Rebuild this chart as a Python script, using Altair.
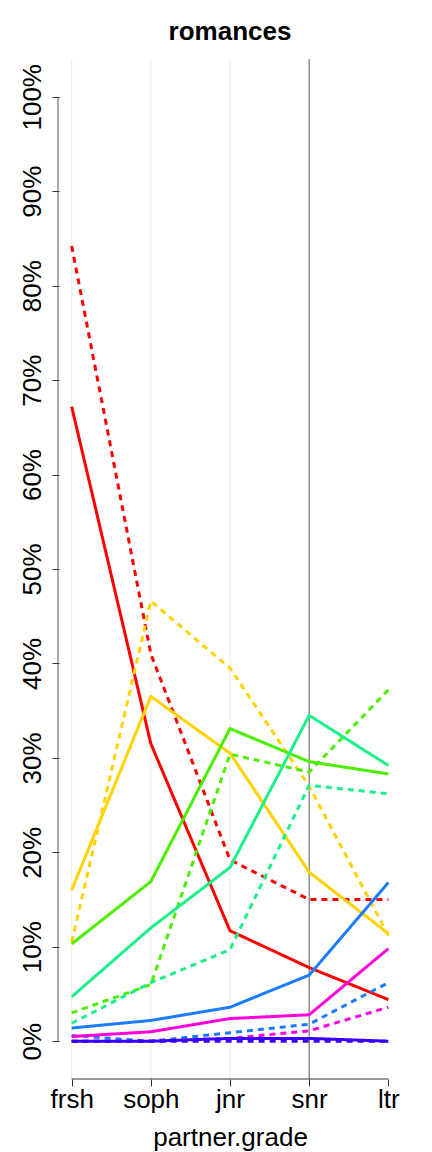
import altair as alt
import pandas as pd

grades = ["frsh", "soph", "jnr", "snr", "ltr"]
grade_pos = [1, 2, 3, 4, 5]

series_names = ["red", "gold", "green", "spring", "blue", "magenta", "purple"]
series_colors = ["#FF0000", "#FFD200", "#4CEE00", "#1CF08A", "#1A7CFF", "#FF00DC", "#3A00FF"]

solid_vals = {
    "red":     [67.2, 31.5, 11.7, 7.8, 4.4],
    "gold":    [16.0, 36.5, 30.5, 17.9, 11.4],
    "green":   [10.3, 16.9, 33.1, 29.6, 28.3],
    "spring":  [4.7, 12.0, 18.4, 34.5, 29.2],
    "blue":    [1.4, 2.2, 3.6, 7.0, 16.8],
    "magenta": [0.5, 1.0, 2.4, 2.8, 9.8],
    "purple":  [0.0, 0.0, 0.3, 0.3, 0.0],
}
dotted_vals = {
    "red":     [84.2, 41.0, 19.2, 15.0, 15.0],
    "gold":    [10.5, 46.6, 39.5, 27.0, 11.2],
    "green":   [3.0, 6.0, 30.4, 28.5, 37.2],
    "spring":  [1.9, 6.2, 9.7, 27.1, 26.2],
    "blue":    [0.6, 0.0, 0.9, 1.8, 6.2],
    "magenta": [0.0, 0.0, 0.3, 1.1, 3.6],
    "purple":  [0.0, 0.0, 0.0, 0.0, 0.0],
}

rows = []
order = 0
for name in series_names:
    for style, table in (("dotted", dotted_vals), ("solid", solid_vals)):
        for g, v in zip(grade_pos, table[name]):
            rows.append({"series": name, "style": style, "key": f"{order:02d}_{name}_{style}",
                         "order": order, "grade": g, "pct": v})
        order += 1
df = pd.DataFrame(rows)

W, H = 342, 1020
FONT = "Liberation Sans"

xscale = alt.Scale(domain=[0.84, 5.16], nice=False, zero=False)
yscale = alt.Scale(domain=[-4, 104], nice=False, zero=False)

label_expr = "['','frsh','soph','jnr','snr','ltr'][datum.value]"

light_grid = alt.Chart(pd.DataFrame({"grade": [1, 2, 3]})).mark_rule(
    color="#EFEDDD", strokeWidth=1
).encode(
    x=alt.X("grade:Q", scale=xscale,
            axis=alt.Axis(values=grade_pos, labelExpr=label_expr, domain=False, grid=False,
                          tickSize=7, tickColor="#333333", tickWidth=1,
                          labelFont=FONT, labelFontSize=26, labelColor="black", labelPadding=0,
                          title="partner.grade", titleFont=FONT, titleFontSize=26,
                          titleFontWeight="normal", titleColor="black", titlePadding=12)),
)

dark_line = alt.Chart(pd.DataFrame({"grade": [4]})).mark_rule(
    color="#555555", strokeWidth=1
).encode(x=alt.X("grade:Q", scale=xscale))

lines = alt.Chart(df).mark_line(strokeWidth=3, strokeCap="butt", strokeJoin="round").encode(
    x=alt.X("grade:Q", scale=xscale),
    y=alt.Y("pct:Q", scale=yscale,
            axis=alt.Axis(values=list(range(0, 101, 10)), labelExpr="datum.value + '%'",
                          labelAngle=270, labelAlign="center", labelBaseline="bottom",
                          domain=False, grid=False, tickSize=7, tickColor="#333333",
                          labelFont=FONT, labelFontSize=26, labelColor="black", labelPadding=7,
                          title=None)),
    color=alt.Color("series:N", scale=alt.Scale(domain=series_names, range=series_colors), legend=None),
    strokeDash=alt.StrokeDash("style:N",
                              scale=alt.Scale(domain=["solid", "dotted"], range=[[1, 0], [6, 5]]),
                              legend=None),
    detail="key:N",
    order="order:Q",
)

y_domain = alt.Chart(pd.DataFrame({"a": [0], "b": [100]})).mark_rule(color="#555555", strokeWidth=1).encode(
    x=alt.value(-1), y=alt.Y("a:Q", scale=yscale), y2="b:Q"
)
x_domain = alt.Chart(pd.DataFrame({"a": [1], "b": [5]})).mark_rule(color="#333333", strokeWidth=1).encode(
    y=alt.value(H), x=alt.X("a:Q", scale=xscale), x2="b:Q"
)

chart = alt.layer(light_grid, dark_line, lines, y_domain, x_domain).properties(
    width=W, height=H,
    title=alt.TitleParams("romances", font=FONT, fontSize=26, fontWeight="bold",
                          color="black", anchor="middle", offset=14),
    autosize=alt.AutoSizeParams(type="none"),
    padding={"left": 51, "top": 51, "right": 22, "bottom": 74},
    background="white",
).configure_view(stroke=None)

chart.save("out.html", embed_options={"renderer": "svg", "actions": False})
